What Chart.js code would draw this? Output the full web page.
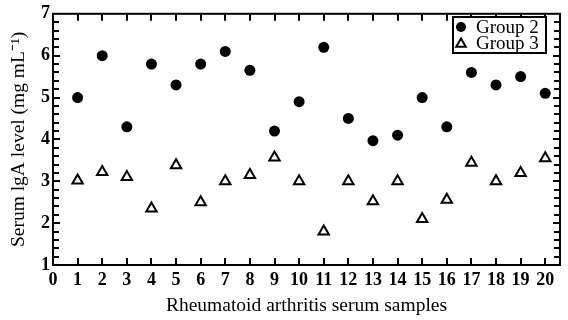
<!DOCTYPE html>
<html>
<head>
<meta charset="utf-8">
<script src="https://cdn.jsdelivr.net/npm/chart.js@4"></script>
<style>
  html, body { margin: 0; padding: 0; background: #fff; }
  canvas { display: block; }
</style>
</head>
<body>
<canvas id="myChart" width="568" height="320"></canvas>
<script>
// sample numbers 1..20
const samples = [1, 2, 3, 4, 5, 6, 7, 8, 9, 10, 11, 12, 13, 14, 15, 16, 17, 18, 19, 20];
const group2 = [5.0, 6.0, 4.3, 5.8, 5.3, 5.8, 6.1, 5.65, 4.2, 4.9, 6.2, 4.5, 3.97, 4.1, 5.0, 4.3, 5.6, 5.3, 5.5, 5.1];
const group3 = [3.02, 3.22, 3.1, 2.35, 3.38, 2.5, 3.0, 3.15, 3.57, 3.0, 1.8, 3.0, 2.52, 3.0, 2.1, 2.56, 3.44, 3.0, 3.2, 3.55];
const xTicks = [0, 1, 2, 3, 4, 5, 6, 7, 8, 9, 10, 11, 12, 13, 14, 15, 16, 17, 18, 19, 20];
const yTicks = [1, 2, 3, 4, 5, 6, 7];

const serif = "'Liberation Serif', 'Times New Roman', serif";

const toPoints = (vals) => samples.map((s, i) => ({ x: s, y: vals[i] }));

// frame + inward ticks on all four sides
const framePlugin = {
  id: 'frame',
  afterDatasetsDraw(chart) {
    const { ctx, chartArea: a, scales } = chart;
    const xs = scales.x, ys = scales.y;
    ctx.save();
    ctx.strokeStyle = '#000';
    ctx.lineWidth = 2;
    ctx.strokeRect(a.left, a.top, a.right - a.left, a.bottom - a.top);
    ctx.beginPath();
    xTicks.forEach(v => {
      if (v === 0) return;
      const px = Math.round(xs.getPixelForValue(v));
      ctx.moveTo(px, a.bottom); ctx.lineTo(px, a.bottom - 7);
      ctx.moveTo(px, a.top); ctx.lineTo(px, a.top + 7);
    });
    for (let k = 1; k < 30; k++) {
      const v = 1 + k * 0.2;
      const py = Math.round(ys.getPixelForValue(v));
      const len = k % 5 === 0 ? 7 : 6;
      ctx.moveTo(a.left, py); ctx.lineTo(a.left + len, py);
      ctx.moveTo(a.right, py); ctx.lineTo(a.right - len, py);
    }
    ctx.stroke();
    ctx.restore();
  }
};

// boxed legend inside the plot, top right
const boxLegend = {
  id: 'boxLegend',
  afterDraw(chart) {
    const { ctx } = chart;
    const x0 = 453, y0 = 17, w = 93, h = 36;
    ctx.save();
    ctx.fillStyle = '#fff';
    ctx.fillRect(x0, y0, w, h);
    ctx.strokeStyle = '#000';
    ctx.lineWidth = 2;
    ctx.strokeRect(x0, y0, w, h);
    ctx.textBaseline = 'middle';
    chart.data.datasets.forEach((ds, i) => {
      const cy = y0 + 10 + i * 16;
      ctx.fillStyle = ds.backgroundColor;
      ctx.strokeStyle = ds.borderColor;
      ctx.lineWidth = 2;
      Chart.helpers.drawPoint(ctx, {
        pointStyle: ds.pointStyle,
        radius: i === 0 ? 5 : 5.5,
        borderWidth: ds.borderWidth
      }, x0 + 8, cy + (i === 1 ? 1 : 0));
      ctx.fillStyle = '#000';
      ctx.font = '19px ' + serif;
      ctx.fillText(ds.label, x0 + 23, cy + 1);
    });
    ctx.restore();
  }
};

const ctx = document.getElementById('myChart');

const myChart = new Chart(ctx, {
  type: 'scatter',
  data: {
    datasets: [{
      label: 'Group 2',
      data: toPoints(group2),
      pointStyle: 'circle',
      pointRadius: 5.5,
      backgroundColor: '#000',
      borderColor: '#000',
      borderWidth: 0
    }, {
      label: 'Group 3',
      data: toPoints(group3),
      pointStyle: 'triangle',
      pointRadius: 6,
      backgroundColor: 'rgba(0,0,0,0)',
      borderColor: '#000',
      borderWidth: 2
    }]
  },
  options: {
    responsive: false,
    animation: false,
    layout: { padding: { top: 7, right: 7, left: 0, bottom: 0 } },
    plugins: {
      legend: { display: false },
      tooltip: { enabled: false }
    },
    scales: {
      x: {
        type: 'linear',
        min: 0,
        max: 20.6,
        afterBuildTicks: (s) => { s.ticks = xTicks.map(v => ({ value: v })); },
        afterFit: (s) => { s.height = 55; },
        grid: { display: false, drawTicks: false },
        border: { display: false },
        ticks: {
          padding: 5,
          color: '#000',
          font: { family: serif, size: 18, weight: 'bold' },
          maxRotation: 0,
          autoSkip: false
        },
        title: {
          display: true,
          text: 'Rheumatoid arthritis serum samples',
          color: '#000',
          font: { family: serif, size: 19.5 },
          padding: { top: 0, bottom: 2 }
        }
      },
      y: {
        type: 'linear',
        min: 1,
        max: 7,
        afterBuildTicks: (s) => { s.ticks = yTicks.map(v => ({ value: v })); },
        afterFit: (s) => { s.width = 53; },
        grid: { display: false, drawTicks: false },
        border: { display: false },
        ticks: {
          padding: 3,
          color: '#000',
          font: { family: serif, size: 18, weight: 'bold' }
        },
        title: {
          display: true,
          text: 'Serum lgA level (mg mL\u207B\u00B9)',
          color: '#000',
          font: { family: serif, size: 19.5 },
          padding: { top: 7, bottom: 0 }
        }
      }
    }
  },
  plugins: [framePlugin, boxLegend]
});
</script>
</body>
</html>
